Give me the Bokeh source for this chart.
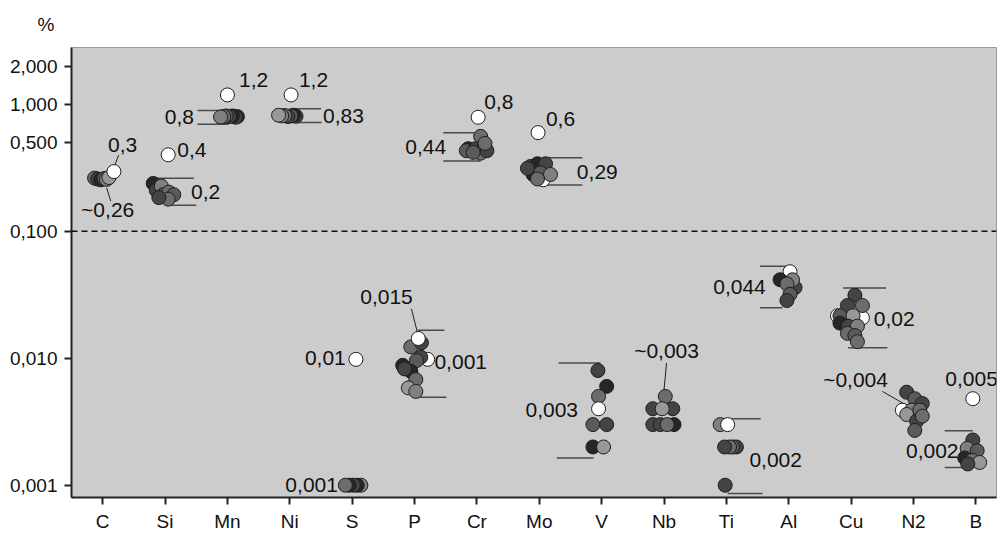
from bokeh.plotting import figure
from bokeh.models import FixedTicker, Span, Title, ColumnDataSource, CustomJSTickFormatter
from bokeh.embed import file_html
from bokeh.resources import INLINE
from bokeh.core.properties import value

# ---------------- data ----------------
categories = ["C", "Si", "Mn", "Ni", "S", "P", "Cr", "Mo", "V", "Nb", "Ti", "Al", "Cu", "N2", "B"]
y_ticks = [0.001, 0.01, 0.1, 0.5, 1.0, 2.0]
threshold = 0.1

# measured contents (%) per element, in drawing order ('w' shade = highlighted white sample)
C_vals  = [0.262, 0.258, 0.254, 0.260, 0.256, 0.265, 0.295]
Si_vals = [0.238, 0.21, 0.227, 0.194, 0.203, 0.194, 0.179, 0.184, 0.40]
Mn_vals = [0.80, 0.79, 0.81, 0.80, 0.81, 0.80, 0.795, 1.185]
Ni_vals = [0.805, 0.82, 0.81, 0.80, 0.815, 0.81, 0.82, 1.185]
S_vals  = [0.001, 0.001, 0.001, 0.001, 0.001, 0.0098]
P_vals  = [0.0098, 0.01228, 0.01324, 0.0102, 0.00958, 0.00879, 0.00789, 0.00679, 0.00584, 0.00548, 0.00824, 0.0143]
Cr_vals = [0.559, 0.447, 0.431, 0.447, 0.447, 0.412, 0.431, 0.418, 0.492, 0.79]
Mo_vals = [0.254, 0.324, 0.34, 0.34, 0.28, 0.289, 0.28, 0.258, 0.313, 0.598]
V_vals  = [0.008, 0.006, 0.005, 0.004, 0.003, 0.003, 0.002, 0.002]
Nb_vals = [0.005, 0.004, 0.004, 0.004, 0.003, 0.003, 0.003, 0.003]
Ti_vals = [0.003, 0.003, 0.002, 0.002, 0.002, 0.002, 0.001]
Al_vals = [0.048, 0.0415, 0.036, 0.0415, 0.0385, 0.0319, 0.0285]
Cu_vals = [0.0208, 0.0216, 0.0313, 0.026, 0.026, 0.0216, 0.0216, 0.0189, 0.0179, 0.0179, 0.0157, 0.0151, 0.0135]
N2_vals = [0.0039, 0.0054, 0.0048, 0.0044, 0.0039, 0.0039, 0.0036, 0.0032, 0.0035, 0.0027]
B_vals  = [0.0048, 0.00227, 0.00195, 0.00187, 0.00164, 0.00157, 0.00151, 0.00147]

# specification ranges (upper, lower) for elements that have them
range_hi = {"Si": 0.262, "Mn": 0.895, "Ni": 0.92, "P": 0.0166, "Cr": 0.598, "Mo": 0.38,
            "V": 0.00917, "Ti": 0.00334, "Al": 0.053, "Cu": 0.0357, "B": 0.00269}
range_lo = {"Si": 0.16, "Mn": 0.697, "Ni": 0.717, "P": 0.00492, "Cr": 0.357, "Mo": 0.231,
            "V": 0.00164, "Ti": 0.00086, "Al": 0.025, "Cu": 0.0121, "B": 0.00138}

# ---------------- styling (jitter, shades, bracket extents, annotation placement) ----------------
jitter = {
    "C":  [-0.13, -0.08, -0.03, 0.02, 0.06, 0.10, 0.18],
    "Si": [-0.19, -0.14, -0.06, -0.03, 0.06, 0.14, 0.05, -0.10, 0.05],
    "Mn": [0.16, 0.13, 0.08, 0.03, -0.02, -0.06, -0.11, 0.0],
    "Ni": [0.10, 0.06, 0.02, -0.03, -0.08, -0.13, -0.18, 0.02],
    "S":  [0.14, 0.08, 0.02, -0.05, -0.11, 0.06],
    "P":  [0.21, -0.06, 0.11, 0.10, 0.03, -0.19, -0.06, 0.02, -0.10, 0.02, -0.16, 0.06],
    "Cr": [0.06, -0.14, -0.17, -0.02, 0.11, 0.06, 0.16, -0.06, 0.13, 0.02],
    "Mo": [0.06, -0.14, -0.03, 0.10, -0.10, 0.02, 0.18, -0.03, -0.19, -0.02],
    "V":  [-0.06, 0.08, -0.05, -0.05, -0.14, 0.08, -0.14, 0.03],
    "Nb": [0.02, -0.18, 0.14, -0.03, -0.18, 0.16, -0.06, 0.05],
    "Ti": [-0.10, 0.02, 0.16, 0.10, 0.05, -0.03, -0.02],
    "Al": [0.02, -0.14, 0.10, 0.06, -0.03, 0.02, -0.03],
    "Cu": [0.18, -0.22, 0.06, -0.06, 0.18, -0.18, 0.03, -0.18, -0.05, 0.10, -0.06, 0.06, 0.10],
    "N2": [-0.18, -0.11, 0.02, 0.14, -0.03, 0.10, -0.11, 0.05, 0.14, 0.02],
    "B":  [-0.05, -0.05, -0.14, 0.02, -0.18, -0.06, 0.06, -0.13],
}
shades = {
    "C": "gdkmlpw", "Si": "kdlmgmgdw", "Mn": "kdkdmglw", "Ni": "dkmdglpw", "S": "lkdkgw",
    "P": "wgddmkkgpldw", "Cr": "gkmdlgdmgw", "Mo": "wdkdkmlgdw", "V": "dkgwmdkp",
    "Nb": "gddpdkdg", "Ti": "lwdmgdd", "Al": "wkdlgmd", "Cu": "wwddgmpkdlgmg",
    "N2": "wdmdlgpdgm", "B": "wdlmkgpd",
}
shade_color = {"w": "#ffffff", "k": "#262626", "d": "#444444", "m": "#5a5a5a",
               "g": "#6c6c6c", "l": "#808080", "p": "#989898"}
# bracket extents (hi_x0, hi_x1, lo_x0, lo_x1) relative to category centre
bracket_x = {"Si": (-0.22, 0.46, 0.10, 0.50), "Mn": (-0.48, 0.02, -0.48, 0.02),
             "Ni": (0.06, 0.50, 0.13, 0.51), "P": (0.05, 0.48, 0.05, 0.51),
             "Cr": (-0.54, 0.06, -0.54, 0.06), "Mo": (0.06, 0.69, 0.06, 0.69),
             "V": (-0.69, -0.02, -0.72, -0.13), "Ti": (-0.14, 0.55, 0.02, 0.58),
             "Al": (-0.46, 0.02, -0.46, -0.10), "Cu": (-0.13, 0.56, -0.05, 0.58),
             "B": (-0.50, -0.05, -0.50, -0.05)}

annotations = [
    ("0,3", 0.32, 0.476), ("~0,26", 0.08, 0.149), ("0,4", 1.43, 0.433), ("0,2", 1.65, 0.203),
    ("1,2", 2.42, 1.54), ("0,8", 1.23, 0.79), ("1,2", 3.38, 1.54), ("0,83", 3.86, 0.812),
    ("0,01", 3.57, 0.01), ("0,001", 3.35, 0.001), ("0,015", 4.55, 0.0302), ("0,001", 5.74, 0.00937),
    ("0,8", 6.35, 1.04), ("0,44", 5.18, 0.461), ("0,6", 7.34, 0.768), ("0,29", 7.93, 0.294),
    ("0,003", 7.20, 0.00388), ("~0,003", 9.04, 0.0114), ("0,002", 10.79, 0.00157),
    ("0,044", 10.21, 0.0364), ("0,02", 12.69, 0.0204), ("~0,004", 12.07, 0.0068),
    ("0,005", 13.93, 0.0068), ("0,002", 13.30, 0.00187),
]
leaders = [((0.256, 0.399), (0.176, 0.313)), ((0.064, 0.22), (0.128, 0.173)),
           ((4.95, 0.0245), (5.05, 0.01567)), ((9.04, 0.00917), (8.97, 0.00396)),
           ((12.5, 0.00548), (13.0, 0.00396))]

all_vals = {"C": C_vals, "Si": Si_vals, "Mn": Mn_vals, "Ni": Ni_vals, "S": S_vals, "P": P_vals,
            "Cr": Cr_vals, "Mo": Mo_vals, "V": V_vals, "Nb": Nb_vals, "Ti": Ti_vals,
            "Al": Al_vals, "Cu": Cu_vals, "N2": N2_vals, "B": B_vals}

FONT = "Liberation Sans"

p = figure(width=998, height=534, x_range=(-0.5, 14.33), y_range=(0.0008, 2.8),
           y_axis_type="log", output_backend="svg", toolbar_location=None,
           min_border_left=71, min_border_right=2, min_border_top=47, min_border_bottom=37)
p.background_fill_color = "#cccccc"
p.border_fill_color = "#ffffff"
p.outline_line_color = "#9a9a9a"
p.outline_line_width = 1
p.xgrid.visible = False
p.ygrid.visible = False

# unit label above the y axis
p.add_layout(Title(text="%", align="left", vertical_align="top", offset=-34, standoff=21,
                   text_font=FONT, text_font_size="19px", text_font_style="normal",
                   text_color="#111111"), "above")

# axes
p.yaxis.ticker = FixedTicker(ticks=y_ticks, minor_ticks=[])
p.yaxis.formatter = CustomJSTickFormatter(code="return tick.toFixed(3).replace('.', ',');")
p.xaxis.ticker = FixedTicker(ticks=list(range(len(categories))), minor_ticks=[])
p.xaxis.major_label_overrides = {i: c for i, c in enumerate(categories)}
for ax in (p.xaxis, p.yaxis):
    ax.axis_line_width = 2
    ax.axis_line_color = "#222222"
    ax.major_tick_line_width = 2
    ax.major_tick_line_color = "#222222"
    ax.major_tick_out = 7
    ax.major_tick_in = 0
    ax.minor_tick_line_color = None
    ax.major_label_text_font = FONT
    ax.major_label_text_color = "#111111"
p.yaxis.major_label_text_font_size = "19px"
p.yaxis.major_label_standoff = 7
p.xaxis.major_label_text_font_size = "19px"
p.xaxis.major_label_standoff = 6

# threshold line
p.add_layout(Span(location=threshold, dimension="width", line_color="#111111",
                  line_width=1.5, line_dash="6 4"))

# range brackets
bx0, bx1, by = [], [], []
for el, (hx0, hx1, lx0, lx1) in bracket_x.items():
    i = categories.index(el)
    bx0 += [i + hx0, i + lx0]
    bx1 += [i + hx1, i + lx1]
    by += [range_hi[el], range_lo[el]]
p.segment(x0=bx0, x1=bx1, y0=by, y1=by, line_color="#4a4a4a", line_width=1.5)

# leader lines
p.segment(x0=[a[0] for a, b in leaders], y0=[a[1] for a, b in leaders],
          x1=[b[0] for a, b in leaders], y1=[b[1] for a, b in leaders],
          line_color="#222222", line_width=1)

# points
xs, ys, fills = [], [], []
for i, el in enumerate(categories):
    for v, off, s in zip(all_vals[el], jitter[el], shades[el]):
        xs.append(i + off)
        ys.append(v)
        fills.append(shade_color[s])
src = ColumnDataSource(dict(x=xs, y=ys, fill=fills))
p.scatter("x", "y", source=src, size=14, fill_color="fill", line_color="#1e1e1e", line_width=1)

# annotation texts
tsrc = ColumnDataSource(dict(x=[a[1] for a in annotations], y=[a[2] for a in annotations],
                             t=[a[0] for a in annotations]))
p.text("x", "y", text="t", source=tsrc, text_font=value(FONT), text_font_size="21px",
       text_color="#111111", text_align="center", text_baseline="middle")

open("out.html", "w").write(file_html(p, INLINE))
